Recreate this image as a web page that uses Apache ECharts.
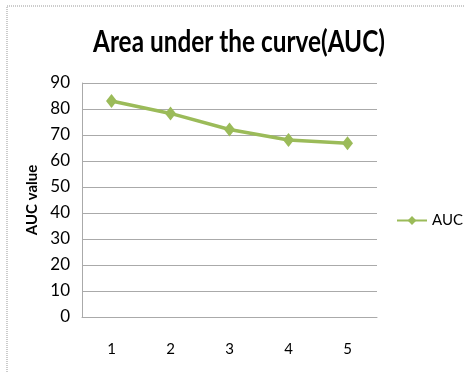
<!DOCTYPE html>
<html><head><meta charset="utf-8">
<script src="https://cdn.jsdelivr.net/npm/echarts@6/dist/echarts.min.js"></script>
<style>html,body{margin:0;padding:0;background:#fff}#c{width:465px;height:373px}</style>
</head><body><div id="c"></div>
<script>
const categories = ['1','2','3','4','5'];
const aucValues = [83.1, 78.3, 72.1, 68.1, 66.8];
const seriesName = 'AUC';
const titleText = 'Area under the curve(AUC)';
const F = 'Lato';
const titleFont = 'bold 30px Lato';
const cv = document.createElement('canvas').getContext('2d');
cv.font = titleFont;
const tw = cv.measureText(titleText).width;
const sx = 292 / tw;
const chart = echarts.init(document.getElementById('c'));
chart.setOption({
  animation:false,
  backgroundColor:'#fff',
  graphic:[
    {type:'rect',shape:{x:7,y:6,width:470,height:380},style:{fill:'none',stroke:'#999',lineWidth:1,lineDash:[1,1]}},
    {type:'text',x:239,y:42,scaleX:sx,style:{text:titleText,font:titleFont,fill:'#000',align:'center',verticalAlign:'middle'}}
  ],
  legend:{data:[seriesName],left:396,top:213,padding:0,itemWidth:30,itemHeight:11,textStyle:{fontFamily:F,fontSize:15,color:'#000'},itemGap:2},
  grid:{left:82,right:88,top:83,bottom:56},
  xAxis:{type:'category',data:categories,boundaryGap:true,axisTick:{show:false},axisLine:{lineStyle:{color:'#aaa'}},axisLabel:{margin:25,fontFamily:F,fontSize:15,color:'#000'}},
  yAxis:{type:'value',min:0,max:90,interval:10,name:'AUC value',nameLocation:'middle',nameGap:39,nameRotate:90,nameTextStyle:{fontFamily:F,fontWeight:'bold',fontSize:15,color:'#000'},axisLine:{show:true,lineStyle:{color:'#aaa'}},axisTick:{show:false},splitLine:{lineStyle:{color:'#aaa'}},axisLabel:{margin:12,fontFamily:F,fontSize:17,color:'#000'}},
  series:[{name:seriesName,type:'line',data:aucValues,symbol:'diamond',symbolSize:[11,14],lineStyle:{color:'#9BBB59',width:3.5},itemStyle:{color:'#9BBB59'}}]
});
</script></body></html>
